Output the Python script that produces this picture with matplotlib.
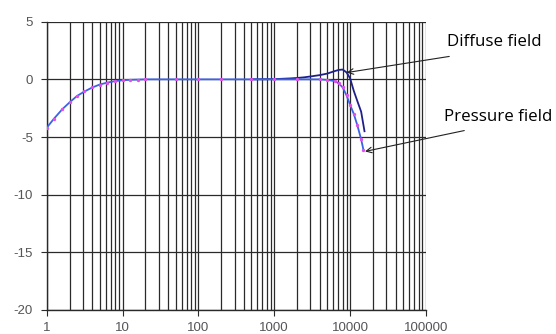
import matplotlib
matplotlib.use("Agg")
import matplotlib.pyplot as plt
from matplotlib.ticker import LogLocator, FixedLocator, NullFormatter

# pressure field response (Hz, dB)
freq_pressure = [1, 1.25, 1.6, 2, 2.5, 3.15, 4, 5, 6.3, 8, 10, 12.5, 16, 20,
                 50, 100, 200, 500, 1000, 2000, 4000, 5000, 6300, 7100, 8000,
                 9000, 10000, 11200, 12500, 14000, 15000]
resp_pressure = [-4.2, -3.4, -2.6, -2.0, -1.45, -1.05, -0.7, -0.45, -0.28, -0.15,
                 -0.08, -0.04, -0.02, 0.0, 0.0, 0.0, 0.0, 0.0, 0.0, 0.0, 0.0,
                 -0.05, -0.15, -0.35, -0.7, -1.4, -2.2, -3.0, -4.0, -5.2, -6.1]

# diffuse field response
freq_diffuse = [500, 1000, 1600, 2000, 2500, 3150, 4000, 5000, 6300, 7100, 8000,
                9000, 10000, 11200, 12500, 14000, 15500]
resp_diffuse = [0.0, 0.02, 0.08, 0.12, 0.18, 0.27, 0.37, 0.5, 0.72, 0.82, 0.85,
                0.6, 0.1, -1.0, -1.9, -2.8, -4.5]

y_ticks = [5, 0, -5, -10, -15, -20]
x_ticks = [1, 10, 100, 1000, 10000, 100000]
x_labels = ["1", "10", "100", "1000", "10000", "100000"]

plt.rcParams["font.family"] = ["Liberation Sans", "DejaVu Sans"]

fig = plt.figure(figsize=(5.56, 3.34), dpi=100)
ax = fig.add_axes([0.084, 0.072, 0.682, 0.863])

ax.set_xscale("log")
ax.set_xlim(1, 100000)
ax.set_ylim(-20, 5)

grid_col = "#2a2a2a"
ax.xaxis.set_major_locator(FixedLocator(x_ticks))
ax.xaxis.set_minor_locator(LogLocator(base=10, subs=range(2, 10), numticks=20))
ax.xaxis.set_minor_formatter(NullFormatter())
ax.set_xticklabels(x_labels)
ax.set_yticks(y_ticks)
ax.set_yticklabels([str(v) for v in y_ticks])

ax.grid(True, which="major", axis="both", color=grid_col, linewidth=0.9)
ax.grid(True, which="minor", axis="x", color=grid_col, linewidth=0.9)

for side in ["top", "right"]:
    ax.spines[side].set_visible(False)
for side in ["left", "bottom"]:
    ax.spines[side].set_color(grid_col)
    ax.spines[side].set_linewidth(1.0)

ax.tick_params(axis="x", which="major", length=4, pad=5, colors=grid_col,
               labelcolor="#555555", labelsize=9.5)
ax.tick_params(axis="x", which="minor", length=0)
ax.tick_params(axis="y", length=4, pad=6, colors=grid_col,
               labelcolor="#555555", labelsize=9.5)

ax.plot(freq_diffuse, resp_diffuse, color="#1f1f8a", linewidth=1.3, zorder=3)
ax.plot(freq_pressure, resp_pressure, color="#3b63e6", linewidth=1.3, zorder=4,
        marker="o", markersize=1.4, markerfacecolor="#e050e8",
        markeredgecolor="#e050e8")

arrow = dict(arrowstyle="->", color="#222222", linewidth=0.8)
ax.annotate("Diffuse field", xy=(7800, 0.6), xytext=(447, 292),
            textcoords="figure pixels", fontsize=12.2, family=["Open Sans"],
            ha="left", va="center", annotation_clip=False)
ax.annotate("", xy=(8300, 0.55), xytext=(452, 278),
            textcoords="figure pixels", arrowprops=arrow, annotation_clip=False)
ax.annotate("Pressure field", xy=(14000, -6.2), xytext=(444, 217),
            textcoords="figure pixels", fontsize=12.2, family=["Open Sans"],
            ha="left", va="center", annotation_clip=False)
ax.annotate("", xy=(14500, -6.3), xytext=(467, 204),
            textcoords="figure pixels", arrowprops=arrow, annotation_clip=False)

fig.savefig("out.png", dpi=100)
